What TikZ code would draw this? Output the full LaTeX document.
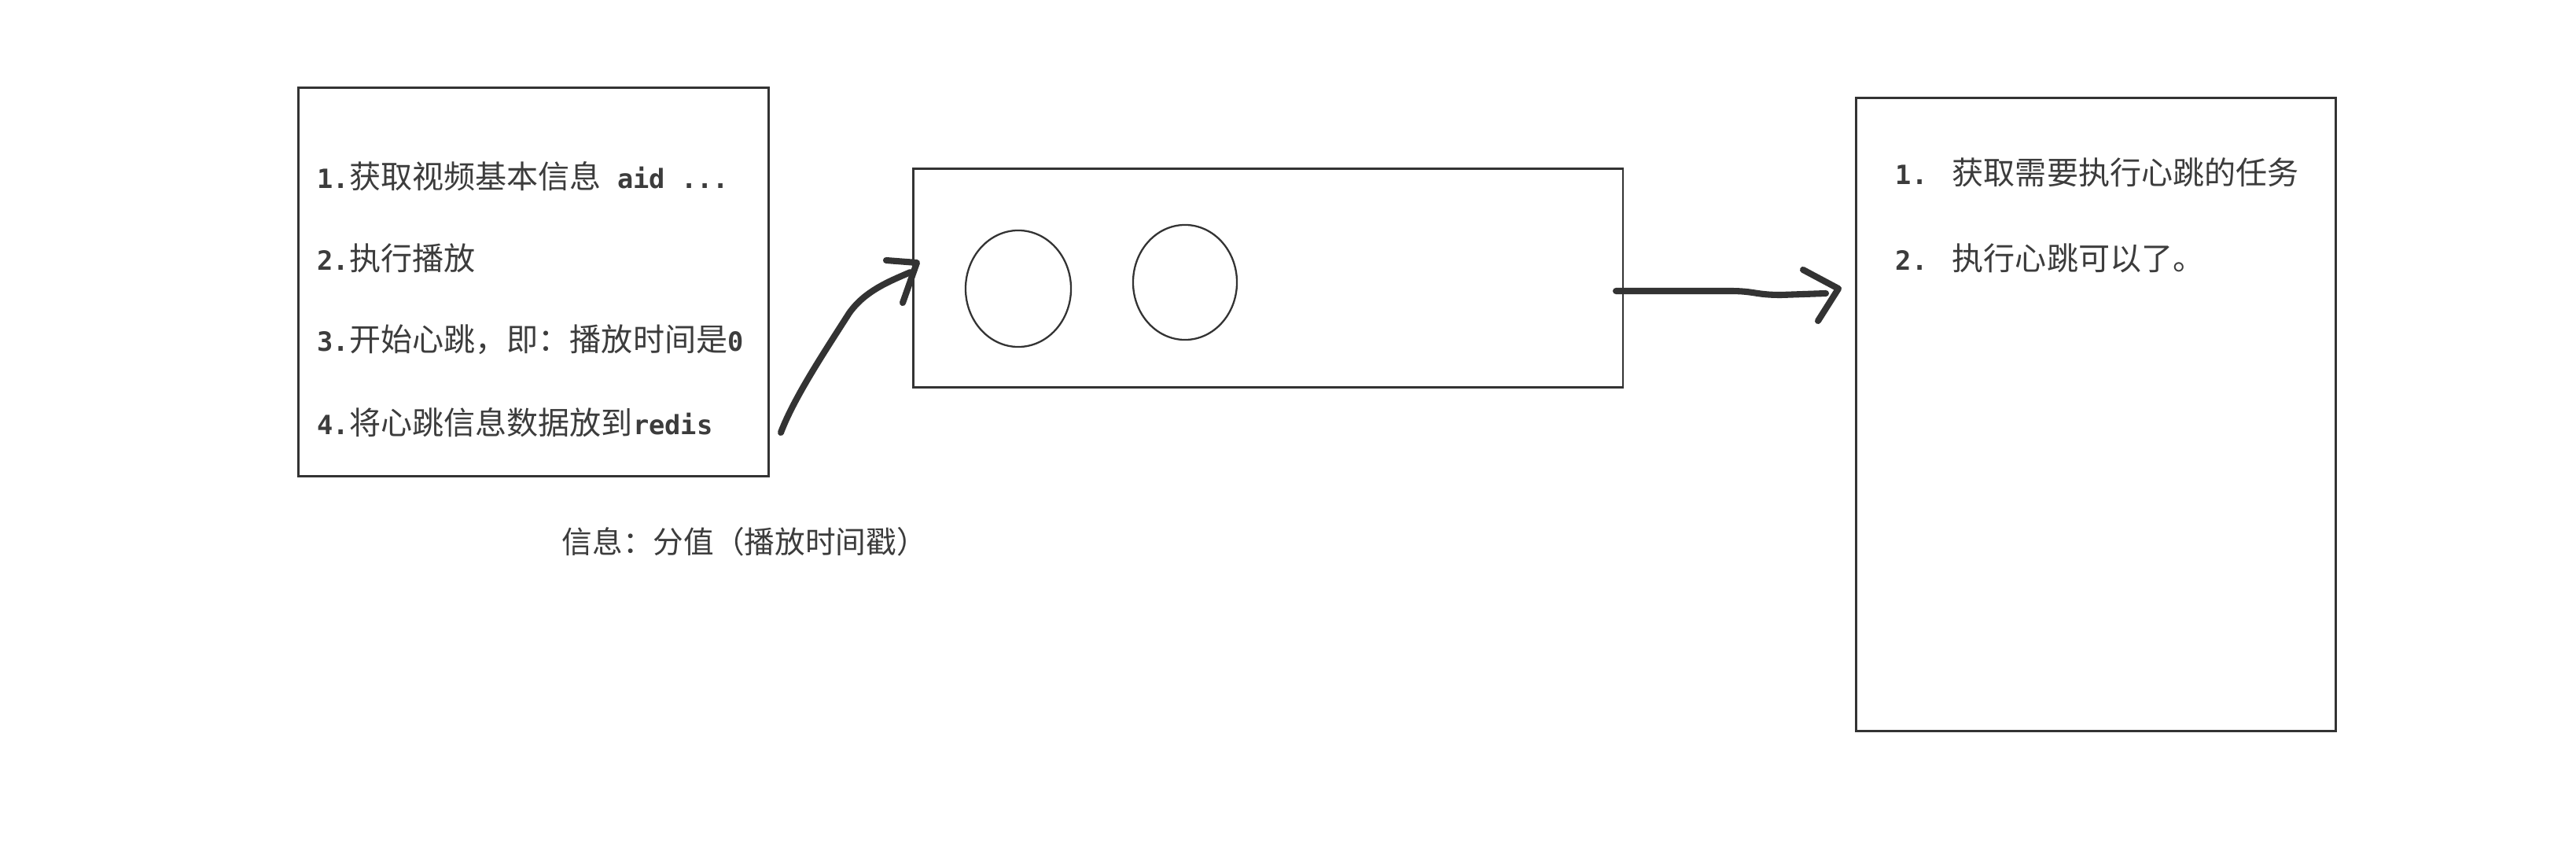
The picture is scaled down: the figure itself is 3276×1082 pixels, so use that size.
\documentclass[tikz,border=0pt]{standalone}
\usepackage{fontspec}
\newfontfamily\cjk{Noto Sans CJK SC}
\newfontfamily\monof{DejaVu Sans Mono Bold}[Scale=0.84]
\usetikzlibrary{shapes.geometric}
\definecolor{ink}{HTML}{333333}
\definecolor{txt}{HTML}{3c3c3c}
\tikzset{
  box/.style={draw=ink, line width=0.75pt, rectangle, inner sep=0pt, anchor=north west},
  ring/.style={draw=ink, line width=0.65pt, ellipse, inner sep=0pt},
  arrowline/.style={draw=ink, line width=2.3pt, line cap=round, line join=round},
  lefttxt/.style={text=txt, anchor=west, inner sep=0pt, font=\fontsize{11.4}{14}\selectfont},
  righttxt/.style={text=txt, anchor=west, inner sep=0pt, font=\fontsize{11.4}{14}\selectfont\cjk},
  labeltxt/.style={text=txt, anchor=west, inner sep=0pt, font=\fontsize{11}{14}\selectfont\cjk}
}
\begin{document}
\begin{tikzpicture}[x=0.01cm,y=-0.01cm]
\useasboundingbox[fill=white] (0,0) rectangle (3276,1082);

% boxes
\node[box, minimum width=5.98cm, minimum height=4.94cm] (left) at (378,110) {};
\node[box, minimum width=9.02cm, minimum height=2.78cm] (mid) at (1160,213) {};
\node[box, minimum width=6.10cm, minimum height=8.05cm] (right) at (2359,123) {};

% left box text
\node[lefttxt] (t1) at (403,224) {{\monof 1.}{\cjk 获取视频基本信息}{\monof\ aid ...}};
\node[lefttxt] (t2) at (403,328) {{\monof 2.}{\cjk 执行播放}};
\node[lefttxt] (t3) at (403,432) {{\monof 3.}{\cjk 开始心跳，即：播放时间是}{\monof 0}};
\node[lefttxt] (t4) at (403,537) {{\monof 4.}{\cjk 将心跳信息数据放到}{\monof redis}};

% right box text
\node[righttxt] (r1) at (2410,219) {\makebox[0.72cm][l]{\monof 1.}获取需要执行心跳的任务};
\node[righttxt] (r2) at (2410,328) {\makebox[0.72cm][l]{\monof 2.}执行心跳可以了。};

% label
\node[labeltxt] (lab) at (714,689) {信息：分值（播放时间戳）};

% circles
\node[ring, minimum width=1.34cm, minimum height=1.48cm] (c1) at (1295,367) {};
\node[ring, minimum width=1.32cm, minimum height=1.46cm] (c2) at (1507,359) {};

% left arrow
\coordinate (a1s) at (993,550);
\coordinate (a1e) at (1158,346);
\coordinate (a1t) at (1166,334);
\draw[arrowline] (a1s) .. controls (1010,505) and (1050,445) .. (1080,398)
  .. controls (1100,370) and (1130,358) .. (a1e);
\draw[arrowline] (1127,331) -- (a1t) -- (1148,385);

% right arrow
\coordinate (a2s) at (2055,370);
\coordinate (a2e) at (2322,373);
\coordinate (a2t) at (2338,367);
\draw[arrowline] (a2s) -- (2200,370) .. controls (2232,370) and (2232,375) .. (2265,375) -- (a2e);
\draw[arrowline] (2293,343) -- (a2t) -- (2312,408);
\end{tikzpicture}
\end{document}
